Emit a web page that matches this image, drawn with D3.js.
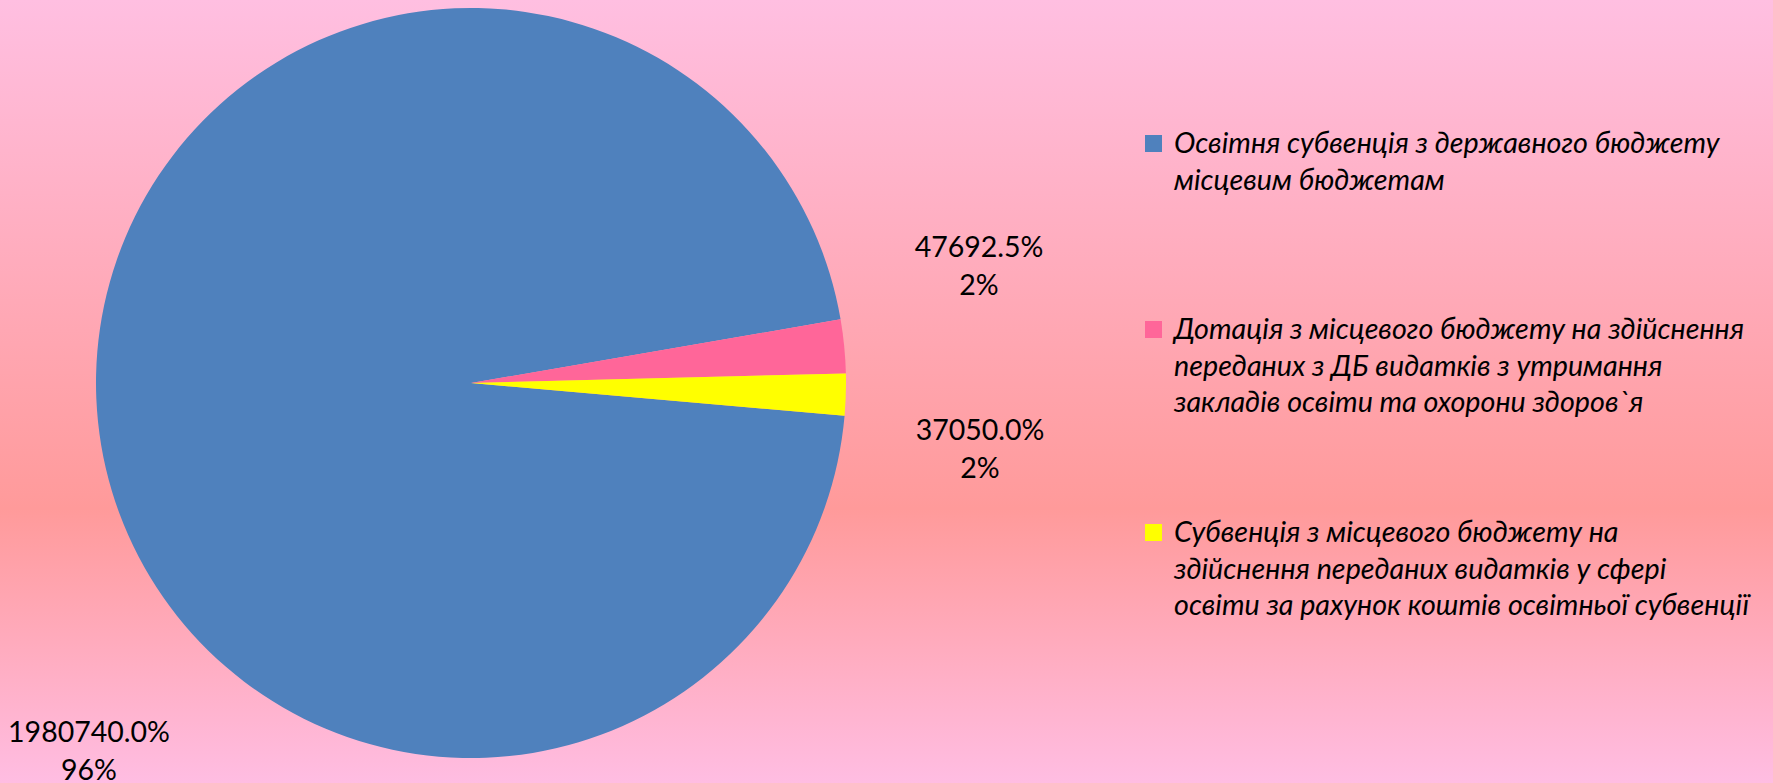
<!DOCTYPE html>
<html>
<head>
<meta charset="utf-8">
<script src="https://cdn.jsdelivr.net/npm/d3@7"></script>
<style>
  html, body { margin: 0; padding: 0; overflow: hidden; }
  body { width: 1773px; height: 783px; }
  text { font-family: Lato, "Open Sans", sans-serif; fill: #000; }
</style>
</head>
<body>
<svg id="chart" width="1773" height="783"></svg>
<script>
// ---- data ----
const categories = [
  "Освітня субвенція з державного бюджету місцевим бюджетам",
  "Дотація з місцевого бюджету на здійснення переданих з ДБ видатків з утримання закладів освіти та охорони здоров`я",
  "Субвенція з місцевого бюджету на здійснення переданих видатків у сфері освіти за рахунок коштів освітньої субвенції"
];
const values = [1980740.0, 47692.5, 37050.0];
const legendLines = [
  ["Освітня субвенція з державного бюджету", "місцевим бюджетам"],
  ["Дотація з місцевого бюджету на здійснення", "переданих з ДБ видатків з утримання", "закладів освіти та охорони здоров`я"],
  ["Субвенція з місцевого бюджету на", "здійснення переданих видатків у сфері", "освіти за рахунок коштів освітньої субвенції"]
];
const colors = ["#4f81bd", "#ff6699", "#ffff00"];

// ---- layout ----
const W = 1773, H = 783;
const cx = 471, cy = 383, R = 375;
const firstSliceDeg = 95;
// label anchors (center x, first-line baseline) per slice
const labelAnchors = [[89, 742], [979, 257], [980, 440]];
const legendX = 1145, legendTops = [135, 321, 524];

const svg = d3.select("#chart");
const defs = svg.append("defs");
const grad = defs.append("linearGradient").attr("id", "bg")
  .attr("x1", 0).attr("y1", 0).attr("x2", 0).attr("y2", 1);
grad.append("stop").attr("offset", "0%").attr("stop-color", "#ffbfe1");
grad.append("stop").attr("offset", "65%").attr("stop-color", "#ff9a9a");
grad.append("stop").attr("offset", "100%").attr("stop-color", "#ffbde2");
svg.append("rect").attr("width", W).attr("height", H).attr("fill", "url(#bg)");

const total = d3.sum(values);
const start = firstSliceDeg * Math.PI / 180;
const pie = d3.pie().sort(null).value(d => d).startAngle(start).endAngle(start + 2 * Math.PI);
const arc = d3.arc().innerRadius(0).outerRadius(R);
const arcs = pie(values);

const g = svg.append("g").attr("transform", `translate(${cx},${cy})`);
g.selectAll("path").data(arcs).join("path")
  .attr("d", arc)
  .attr("fill", (d, i) => colors[i]);

// data labels
const fmtVal = d3.format(".1f");
const fmtPct = d3.format(".0%");
const labels = svg.append("g");
arcs.forEach((d, i) => {
  const t = labels.append("text")
    .attr("text-anchor", "middle")
    .attr("font-size", 28.5);
  t.append("tspan").attr("x", labelAnchors[i][0]).attr("y", labelAnchors[i][1])
    .text(fmtVal(d.data) + "%");
  t.append("tspan").attr("x", labelAnchors[i][0]).attr("y", labelAnchors[i][1] + 38)
    .text(fmtPct(d.data / total));
});

// legend
const leg = svg.append("g");
categories.forEach((c, i) => {
  leg.append("rect")
    .attr("x", legendX).attr("y", legendTops[i])
    .attr("width", 17).attr("height", 17)
    .attr("fill", colors[i]);
  const t = leg.append("text")
    .attr("font-size", 28.7)
    .attr("font-style", "italic");
  legendLines[i].forEach((ln, j) => {
    t.append("tspan").attr("x", legendX + 29).attr("y", legendTops[i] + 18 + j * 36.5).text(ln);
  });
});
</script>
</body>
</html>
